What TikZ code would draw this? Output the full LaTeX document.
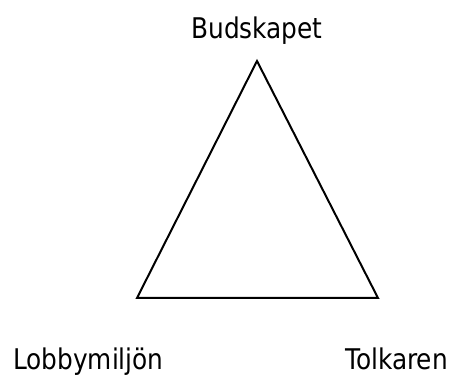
\documentclass[tikz,border=0pt]{standalone}
\usepackage{fontspec}
\setmainfont[FakeStretch=0.87]{DejaVu Sans}
\begin{document}
\begin{tikzpicture}[x=1pt,y=1pt,
  lbl/.style={font=\fontsize{28.5}{32}\selectfont, inner sep=0pt},
  edge/.style={line width=2pt, line join=miter}]
\useasboundingbox (0,0) rectangle (459,378);
\coordinate (t) at (257,317);
\coordinate (l) at (137,80);
\coordinate (r) at (378,80);
\draw[edge] (t) -- (l) -- (r) -- cycle;
\node[lbl, anchor=base] (b) at (257,339) {Budskapet};
\node[lbl, anchor=base west] (lm) at (13,8) {Lobbymiljön};
\node[lbl, anchor=base west] (tk) at (345,8) {Tolkaren};
\end{tikzpicture}
\end{document}
